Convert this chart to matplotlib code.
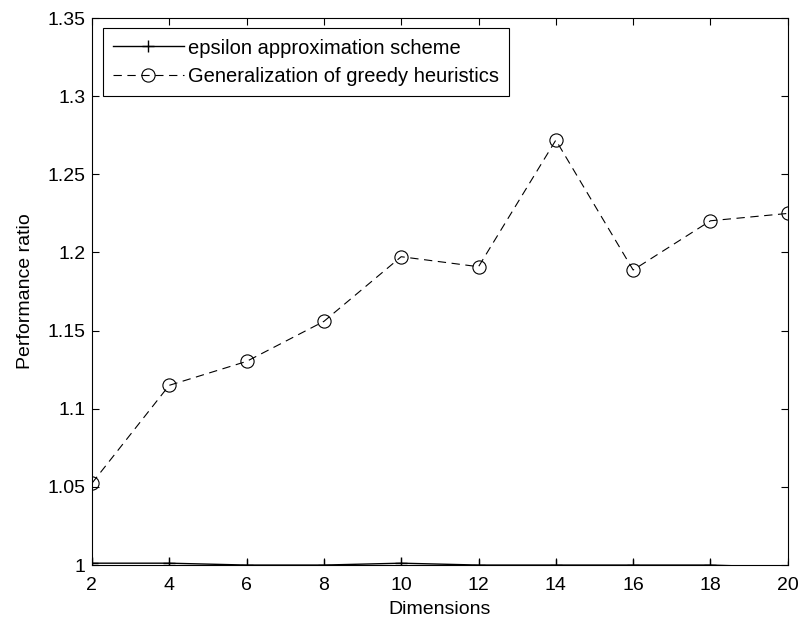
import matplotlib
matplotlib.use("Agg")
import matplotlib.pyplot as plt

plt.rcParams['font.family'] = ['Liberation Sans', 'DejaVu Sans']
plt.rcParams['lines.scale_dashes'] = False

# dimensions tested and the performance ratio of each method
dims = [2, 4, 6, 8, 10, 12, 14, 16, 18, 20]
epsilon_ratio = [1.0012, 1.0012, 1.0, 1.0, 1.0012, 1.0, 1.0, 1.0, 1.0, 0.9985]
greedy_ratio = [1.0523, 1.115, 1.1303, 1.1559, 1.1973, 1.1909, 1.2719, 1.1888, 1.2203, 1.2250]

xticks = [2, 4, 6, 8, 10, 12, 14, 16, 18, 20]
yticks = [1, 1.05, 1.1, 1.15, 1.2, 1.25, 1.3, 1.35]
ytick_labels = ['1', '1.05', '1.1', '1.15', '1.2', '1.25', '1.3', '1.35']

fs = 14

fig = plt.figure(figsize=(7.99, 6.23), dpi=100)
ax = fig.add_axes([0.115, 0.093, 0.871, 0.878])

ax.plot(dims, epsilon_ratio, color='black', lw=1.0, marker='+', markersize=9,
        markeredgewidth=1.0, label='epsilon approximation scheme')
ax.plot(dims, greedy_ratio, color='black', lw=0.8, ls=(0, (6, 4)), marker='o',
        markersize=9.5, markerfacecolor='none', markeredgewidth=0.8,
        label='Generalization of greedy heuristics')

ax.set_xlim(2, 20)
ax.set_ylim(1, 1.35)
ax.set_xticks(xticks)
ax.set_yticks(yticks)
ax.set_yticklabels(ytick_labels)
ax.tick_params(direction='in', length=5, width=0.8, top=True, right=True,
               labelsize=fs)
ax.tick_params(axis='x', pad=8.5)
ax.tick_params(axis='y', pad=4.5)
for sp in ax.spines.values():
    sp.set_linewidth(0.8)

ax.set_xlabel('Dimensions', fontsize=fs, labelpad=5)
ax.set_ylabel('Performance ratio', fontsize=fs, labelpad=10)

leg = ax.legend(loc='upper left', bbox_to_anchor=(0.016, 0.981), borderaxespad=0,
                fancybox=False, edgecolor='black', framealpha=1, fontsize=14.5,
                handlelength=3.5, handletextpad=0.2, borderpad=0.5, labelspacing=0.45)
leg.get_frame().set_linewidth(0.8)

fig.savefig('out.png', dpi=100)
